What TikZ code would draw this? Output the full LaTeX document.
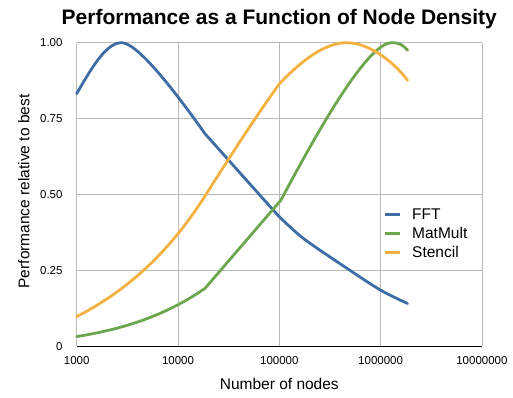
\documentclass[tikz,border=0pt]{standalone}
\usepackage{fontspec}
\setmainfont{Liberation Sans}
\usepackage{tikz}
\usetikzlibrary{positioning}

\definecolor{fftblue}{RGB}{62,108,165}
\definecolor{matgreen}{RGB}{108,166,78}
\definecolor{stcorange}{RGB}{243,177,66}

\begin{document}
\begin{tikzpicture}[
  x=101.3pt, y=303.6pt,
  grid/.style={draw=black!27, line width=0.8pt},
  curve/.style={line width=2.8pt, line cap=round, line join=round},
  ticklab/.style={font=\fontsize{11.5}{13}\selectfont, inner sep=0pt},
  axlab/.style={font=\fontsize{15.5}{18}\selectfont, inner sep=0pt},
  legtext/.style={font=\fontsize{15.5}{18}\selectfont, inner sep=0pt, anchor=base west},
  legline/.style={line width=2.4pt}
]
\useasboundingbox (-76.7pt,-50.7pt) rectangle (436.3pt,346.3pt);

% grid and frame
\foreach \v in {0.25,0.5,0.75,1}
  \draw[grid] (0,\v) -- (4,\v);
\foreach \d in {0,1,2,3,4}
  \draw[grid] (\d,0) -- (\d,1);
\draw[black, line width=0.9pt] (0,0) -- (4,0);

% tick labels
\foreach \v/\t [count=\i] in {0/0,0.25/0.25,0.5/0.50,0.75/0.75,1/1.00}
  \node[ticklab, anchor=east] (ytick\i) at ([xshift=-14pt]0,\v) {\t};
\foreach \d/\t [count=\i] in {0/1000,1/10000,2/100000,3/1000000,4/10000000}
  \node[ticklab, anchor=north] (xtick\i) at ([yshift=-10.4pt]\d,0) {\t};

% titles
\node[font=\bfseries\fontsize{21}{25}\selectfont, inner sep=0pt, anchor=base] (title)
  at ([yshift=18.4pt]2,1) {Performance as a Function of Node Density};
\node[axlab, anchor=base] (xlab) at ([yshift=-43pt]2,0) {Number of nodes};
\node[axlab, rotate=90, anchor=base] (ylab) at ([xshift=-47.4pt]0,0.51) {Performance relative to best};

% data (x = decades above 1000)
\draw[curve, fftblue] (0,0.832)
  .. controls (0.17,0.931) and (0.30,1.0) .. (0.444,1.0)
  .. controls (0.62,1.0) and (1.067,0.794) .. (1.267,0.70)
  -- (1.99,0.43)
  -- plot[smooth, tension=0.5] coordinates {
    (1.99,0.43) (2.239,0.355) (2.667,0.257) (3.0,0.185) (3.266,0.141)};
\draw[curve, matgreen] (0,0.032)
  .. controls (0.42,0.055) and (0.847,0.094) .. (1.267,0.191)
  -- (2.015,0.481)
  .. controls (2.3,0.658) and (2.85,1.0) .. (3.111,1.0)
  .. controls (3.19,1.0) and (3.23,0.99) .. (3.266,0.975);
\draw[curve, stcorange] (0,0.098)
  .. controls (0.4,0.166) and (0.851,0.279) .. (1.251,0.487)
  .. controls (1.5,0.617) and (1.752,0.75) .. (2.002,0.865)
  .. controls (2.222,0.942) and (2.45,1.0) .. (2.667,1.0)
  .. controls (2.87,1.0) and (3.116,0.9435) .. (3.266,0.876);

% legend
\node[legtext] (legfft) at (3.31,0.4183) {FFT};
\node[legtext] (legmat) at ([yshift=-19pt]legfft.base west) {MatMult};
\node[legtext] (legstc) at ([yshift=-19pt]legmat.base west) {Stencil};
\draw[legline, fftblue] ([xshift=-27pt,yshift=5pt]legfft.base west) -- ++(15pt,0);
\draw[legline, matgreen] ([xshift=-27pt,yshift=5pt]legmat.base west) -- ++(15pt,0);
\draw[legline, stcorange] ([xshift=-27pt,yshift=5pt]legstc.base west) -- ++(15pt,0);
\end{tikzpicture}
\end{document}
